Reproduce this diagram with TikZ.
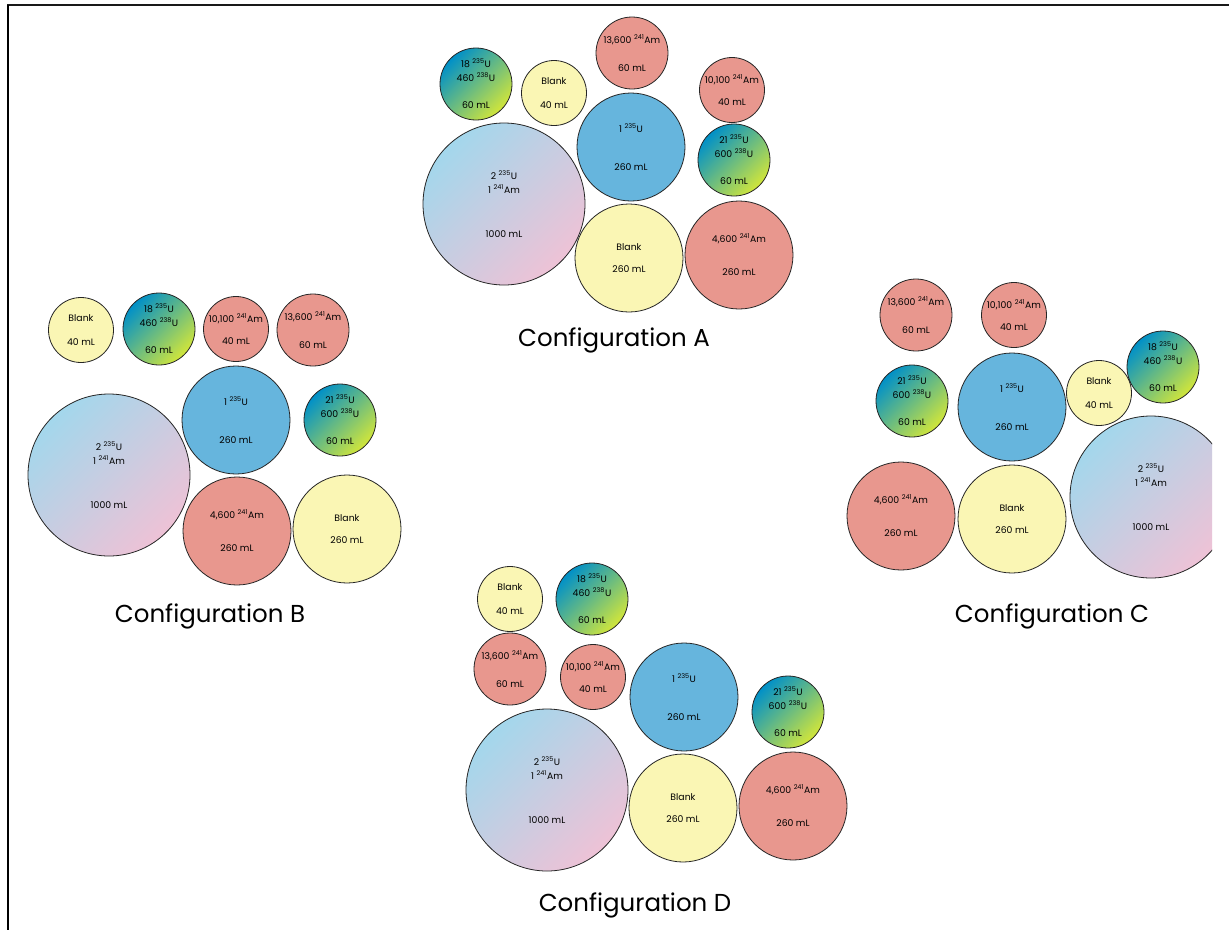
\documentclass[tikz,border=0pt]{standalone}
\usepackage{fontspec}
\setmainfont{Poppins}
\usepackage{tikz}

\definecolor{amred}{HTML}{E8978E}
\definecolor{blankyellow}{HTML}{FAF6B4}
\definecolor{ublue}{HTML}{66B5DD}
\definecolor{mixtop}{HTML}{A3D7EC}
\definecolor{mixbot}{HTML}{EEC2D6}
\definecolor{gradtop}{HTML}{0090C8}
\definecolor{gradmid}{HTML}{3DAA94}
\definecolor{gradbot}{HTML}{D2E63A}

\newcommand{\iso}[2]{\textsuperscript{#1}#2}

\tikzset{
  vial/.style={circle, draw=black!85, line width=0.8pt, inner sep=-14pt, align=center,
    font=\fontsize{9.3}{14}\selectfont},
  v1000/.style={vial, minimum size=162pt, top color=mixtop, bottom color=mixbot, shading angle=45},
  v260/.style={vial, minimum size=108pt},
  v60/.style={vial, minimum size=72pt},
  v40/.style={vial, minimum size=65pt},
  amfill/.style={fill=amred},
  blankfill/.style={fill=blankyellow},
  ufill/.style={fill=ublue},
  gradfill/.style={top color=gradtop, middle color=gradmid, bottom color=gradbot, shading angle=45},
  cfglabel/.style={font=\fontsize{24.5}{28}\selectfont}
}

\begin{document}
\begin{tikzpicture}[x=1pt,y=-1pt]
  \useasboundingbox[fill=white] (0,0) rectangle (1229,930);
  \draw[line width=2.5pt, black!90] (7,5) -- (1229,5);
  \draw[line width=2.5pt] (8,5) -- (8,930);

  % Configuration A
  \node[v1000] (A1) at (504,204) {2 \iso{235}{U}\\1 \iso{241}{Am}\\[30pt]1000 mL};
  \node[v260, ufill] (A2) at (631,147) {1 \iso{235}{U}\\[24pt]260 mL};
  \node[v260, blankfill] (A3) at (629,258) {Blank\\[8pt]260 mL};
  \node[v260, amfill] (A4) at (739,255) {4,600 \iso{241}{Am}\\[19pt]260 mL};
  \node[v60, gradfill] (A5) at (476,84) {18 \iso{235}{U}\\460 \iso{238}{U}\\[13pt]60 mL};
  \node[v40, blankfill] (A6) at (554,93) {Blank\\[10pt]40 mL};
  \node[v60, amfill] (A7) at (632,53) {13,600 \iso{241}{Am}\\[14pt]60 mL};
  \node[v40, amfill] (A8) at (732,90) {10,100 \iso{241}{Am}\\[8pt]40 mL};
  \node[v60, gradfill] (A9) at (734,160) {21 \iso{235}{U}\\600 \iso{238}{U}\\[13pt]60 mL};
  \node[cfglabel] (labA) at (614,340) {Configuration A};

  % Configuration B
  \node[v1000] (B1) at (109,475) {2 \iso{235}{U}\\1 \iso{241}{Am}\\[30pt]1000 mL};
  \node[v260, ufill] (B2) at (236,420) {1 \iso{235}{U}\\[24pt]260 mL};
  \node[v260, amfill] (B3) at (237,531) {4,600 \iso{241}{Am}\\[19pt]260 mL};
  \node[v260, blankfill] (B4) at (347,529) {Blank\\[8pt]260 mL};
  \node[v40, blankfill] (B5) at (81,330) {Blank\\[10pt]40 mL};
  \node[v60, gradfill] (B6) at (159,329) {18 \iso{235}{U}\\460 \iso{238}{U}\\[13pt]60 mL};
  \node[v40, amfill] (B7) at (236,329) {10,100 \iso{241}{Am}\\[8pt]40 mL};
  \node[v60, amfill] (B8) at (313,330) {13,600 \iso{241}{Am}\\[14pt]60 mL};
  \node[v60, gradfill] (B9) at (340,420) {21 \iso{235}{U}\\600 \iso{238}{U}\\[13pt]60 mL};
  \node[cfglabel] (labB) at (210,616) {Configuration B};

  % Configuration C
  \begin{scope}
    \clip (0,0) rectangle (1212,930);
    \node[v1000] (C1) at (1151,497) {2 \iso{235}{U}\\1 \iso{241}{Am}\\[30pt]1000 mL};
  \end{scope}
  \node[v260, ufill] (C2) at (1012,407) {1 \iso{235}{U}\\[24pt]260 mL};
  \node[v260, blankfill] (C3) at (1012,519) {Blank\\[8pt]260 mL};
  \node[v260, amfill] (C4) at (901,516) {4,600 \iso{241}{Am}\\[19pt]260 mL};
  \node[v60, amfill] (C5) at (916,315) {13,600 \iso{241}{Am}\\[14pt]60 mL};
  \node[v40, amfill] (C6) at (1014,315) {10,100 \iso{241}{Am}\\[8pt]40 mL};
  \node[v60, gradfill] (C7) at (912,401) {21 \iso{235}{U}\\600 \iso{238}{U}\\[13pt]60 mL};
  \node[v40, blankfill] (C8) at (1099,393) {Blank\\[10pt]40 mL};
  \node[v60, gradfill] (C9) at (1163,367) {18 \iso{235}{U}\\460 \iso{238}{U}\\[13pt]60 mL};
  \node[cfglabel] (labC) at (1052,616) {Configuration C};

  % Configuration D
  \node[v1000] (D1) at (547,790) {2 \iso{235}{U}\\1 \iso{241}{Am}\\[30pt]1000 mL};
  \node[v260, ufill] (D2) at (684,697) {1 \iso{235}{U}\\[24pt]260 mL};
  \node[v260, blankfill] (D3) at (683,808) {Blank\\[8pt]260 mL};
  \node[v260, amfill] (D4) at (793,806) {4,600 \iso{241}{Am}\\[19pt]260 mL};
  \node[v40, blankfill] (D5) at (510,599) {Blank\\[10pt]40 mL};
  \node[v60, gradfill] (D6) at (592,599) {18 \iso{235}{U}\\460 \iso{238}{U}\\[13pt]60 mL};
  \node[v60, amfill] (D7) at (510,669) {13,600 \iso{241}{Am}\\[14pt]60 mL};
  \node[v40, amfill] (D8) at (593,677) {10,100 \iso{241}{Am}\\[8pt]40 mL};
  \node[v60, gradfill] (D9) at (788,712) {21 \iso{235}{U}\\600 \iso{238}{U}\\[13pt]60 mL};
  \node[cfglabel] (labD) at (635,905) {Configuration D};
\end{tikzpicture}
\end{document}
